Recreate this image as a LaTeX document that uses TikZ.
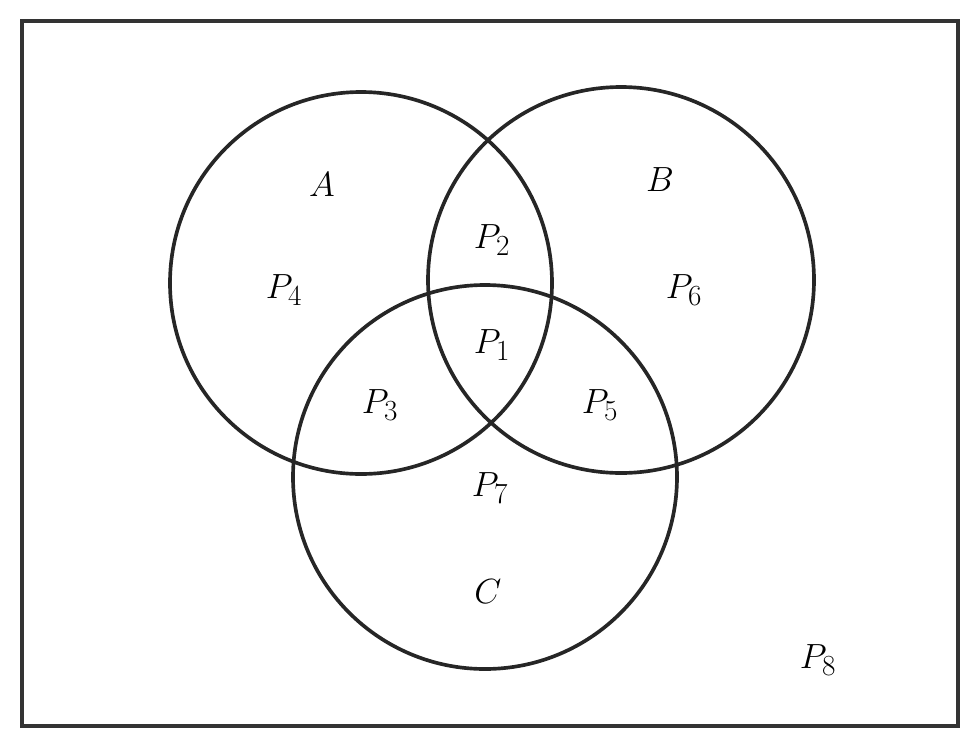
\documentclass[tikz,border=0pt]{standalone}
\begin{document}
\begin{tikzpicture}[x=0.025cm,y=-0.025cm,
  setline/.style={line width=2.6pt,draw=black!85},
  lbl/.style={font=\fontsize{30}{36}\selectfont, inner sep=0pt}]
\useasboundingbox (0,0) rectangle (964,732);
\draw[line width=2.6pt,draw=black!80] (22,21) rectangle (958,726);
\draw[setline] (361,283) circle (191);
\draw[setline] (621,280) circle (193);
\draw[setline] (485,477) circle (192);
\node[lbl] (a) at (322,185) {$A$};
\node[lbl] (b) at (660,180) {$B$};
\node[lbl] (c) at (488,592) {$C$};
\node[lbl] (p4) at (284,290) {$P_4$};
\node[lbl] (p2) at (492,240) {$P_2$};
\node[lbl] (p1) at (492,345) {$P_1$};
\node[lbl] (p6) at (684,290) {$P_6$};
\node[lbl] (p3) at (380,405) {$P_3$};
\node[lbl] (p5) at (600,405) {$P_5$};
\node[lbl] (p7) at (490,488) {$P_7$};
\node[lbl] (p8) at (818,660) {$P_8$};
\end{tikzpicture}
\end{document}
